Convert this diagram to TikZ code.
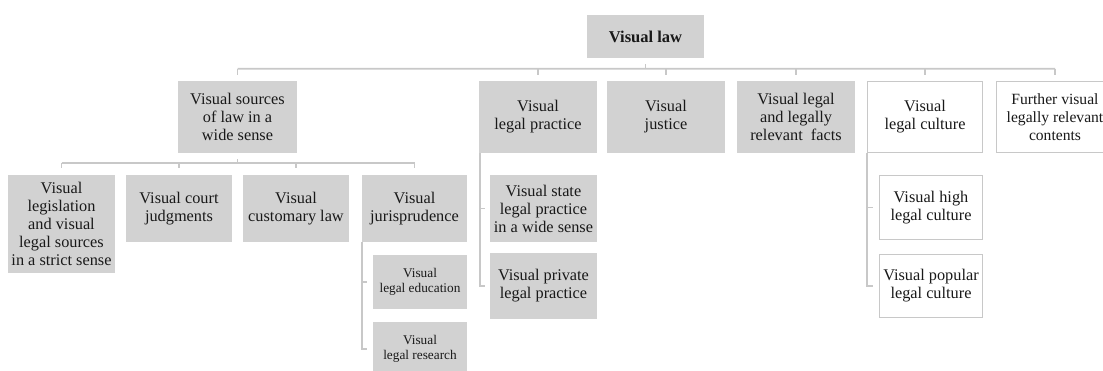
\documentclass[tikz,border=0pt]{standalone}
\usepackage{fontspec}
\setmainfont{Liberation Serif}
\definecolor{boxgray}{RGB}{210,210,210}
\definecolor{linegray}{RGB}{200,200,200}
\definecolor{inkgray}{RGB}{25,25,25}
\tikzset{
    box/.style={fill=boxgray,text=inkgray,align=center,inner sep=0pt,
        font=\fontsize{16.3}{18}\selectfont},
    openbox/.style={box,fill=white,draw=linegray,line width=1.7pt},
    smallbox/.style={box,font=\fontsize{13.3}{14.5}\selectfont},
    link/.style={draw=linegray,line width=1.7pt},
    sz/.style 2 args={minimum width=#1pt,minimum height=#2pt}
}

\begin{document}
\begin{tikzpicture}[x=1pt,y=-1pt]
    \path[use as bounding box] (0,0) rectangle (1103,370);
    \clip (0,0) rectangle (1103,370);
    \node[box,sz={117}{43},font=\bfseries\fontsize{16.5}{18}\selectfont] (law) at (645.5,36.5) {Visual law};
    \node[box,sz={119}{72}] (src) at (237.5,117) {Visual sources\\of law in a\\wide sense};
    \node[box,sz={118}{72}] (pract) at (538,117) {Visual\\legal practice};
    \node[box,sz={118}{72}] (just) at (666,117) {Visual\\justice};
    \node[box,sz={118}{72}] (facts) at (796,117) {Visual legal\\and legally\\relevant~~facts};
    \node[openbox,sz={115}{71}] (culture) at (925,117) {Visual\\legal culture};
    \node[openbox,sz={117}{71},font=\fontsize{15.6}{18}\selectfont] (further) at (1055,117) {Further visual\\legally relevant\\contents};
    \node[box,sz={107}{98}] (legis) at (61.5,224) {Visual\\legislation\\and visual\\legal sources\\in a strict sense};
    \node[box,sz={106}{67}] (court) at (179,208.5) {Visual court\\judgments};
    \node[box,sz={106}{67}] (custom) at (296,208.5) {Visual\\customary law};
    \node[box,sz={105}{67}] (juris) at (414.5,208.5) {Visual\\jurisprudence};
    \node[smallbox,sz={94}{54}] (educ) at (420,282) {Visual\\legal education};
    \node[smallbox,sz={94}{54}] (research) at (420,349) {Visual\\legal research};
    \node[box,sz={107}{67}] (state) at (543.5,208.5) {Visual state\\legal practice\\in a wide sense};
    \node[box,sz={107}{66}] (private) at (543.5,286) {Visual private\\legal practice};
    \node[openbox,sz={103}{64}] (high) at (931,207.5) {Visual high\\legal culture};
    \node[openbox,sz={103}{63}] (popular) at (931,286) {Visual popular\\legal culture};
    \draw[link] ([yshift=-6pt]law.south) -- ([yshift=-11pt]law.south);
    \draw[link] ([yshift=12pt]src.north) -- ([yshift=12pt]further.north);
    \foreach \n in {src,pract,just,facts,culture,further}
        \draw[link] ([yshift=12pt]\n.north) -- ([yshift=6pt]\n.north);
    \draw[link] ([yshift=-6pt]src.south) -- ([yshift=-10pt]src.south);
    \draw[link] ([yshift=12pt]legis.north) -- ([yshift=12pt]juris.north);
    \foreach \n in {legis,court,custom,juris}
        \draw[link] ([yshift=12pt]\n.north) -- ([yshift=7pt]\n.north);
    \draw[link] ([xshift=0.5pt]juris.south west) |- ([xshift=-6pt]research.west);
    \draw[link] ([xshift=-11pt]educ.west) -- ([xshift=-6pt]educ.west);
    \draw[link] ([xshift=1pt]pract.south west) |- ([xshift=-5pt]private.west);
    \draw[link] ([xshift=-10pt]state.west) -- ([xshift=-5pt]state.west);
    \draw[link] ([xshift=0.5pt]culture.south west) |- ([xshift=-6pt]popular.west);
    \draw[link] ([xshift=-11pt]high.west) -- ([xshift=-6pt]high.west);
\end{tikzpicture}
\end{document}
